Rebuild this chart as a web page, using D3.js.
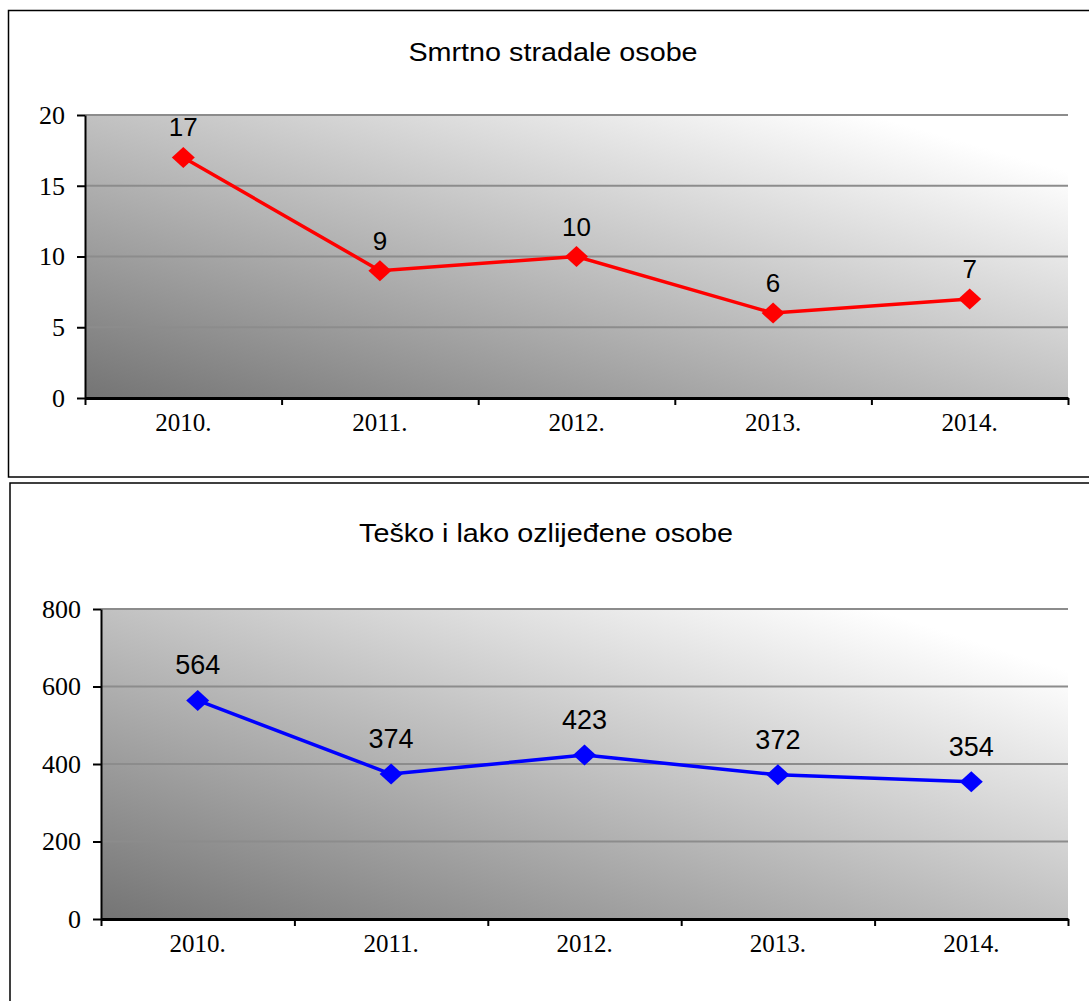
<!DOCTYPE html>
<html>
<head>
<meta charset="utf-8">
<script src="https://cdn.jsdelivr.net/npm/d3@7"></script>
<style>
  body { margin: 0; background: #fff; }
  svg { display: block; }
</style>
</head>
<body>
<svg id="chart"></svg>
<script>
const years = ['2010.', '2011.', '2012.', '2013.', '2014.'];
const deaths = [17, 9, 10, 6, 7];
const injured = [564, 374, 423, 372, 354];
const deathTicks = [0, 5, 10, 15, 20];
const injuredTicks = [0, 200, 400, 600, 800];

const width = 1089;
const height = 1001;

const svg = d3.select('#chart').attr('width', width).attr('height', height);

// background gradient like the old excel plot area
const defs = svg.append('defs');
const grad = defs
  .append('linearGradient')
  .attr('id', 'plotBg')
  .attr('x1', 0)
  .attr('y1', 1)
  .attr('x2', 1)
  .attr('y2', 0);
grad.append('stop').attr('offset', '0%').attr('stop-color', '#747474');
grad.append('stop').attr('offset', '90%').attr('stop-color', '#ffffff');

function drawPanel(p) {
  // outer frame
  svg
    .append('rect')
    .attr('x', p.frame[0])
    .attr('y', p.frame[1])
    .attr('width', p.frame[2])
    .attr('height', p.frame[3])
    .attr('fill', 'none')
    .attr('stroke', '#000')
    .attr('stroke-width', 1.5);

  // title is a bit wider than plain Arial in the original, stretch it
  svg
    .append('text')
    .attr('transform', `translate(${p.titleX}, ${p.titleY}) scale(1.15, 1)`)
    .attr('text-anchor', 'middle')
    .attr('font-family', 'Liberation Sans, Arial, sans-serif')
    .attr('font-size', 25)
    .text(p.title);

  const xBand = d3.scaleBand().domain(years).range([p.left, p.right]);
  const xEdge = d3.scaleLinear().domain([0, years.length]).range([p.left, p.right]);
  const yScale = d3
    .scaleLinear()
    .domain([0, d3.max(p.ticks)])
    .range([p.bottom, p.top]);

  svg
    .append('rect')
    .attr('x', p.left)
    .attr('y', p.top)
    .attr('width', p.right - p.left)
    .attr('height', p.bottom - p.top)
    .attr('fill', 'url(#plotBg)');

  /* grid */
  svg
    .append('g')
    .selectAll('line')
    .data(p.ticks.filter(t => t > 0))
    .enter()
    .append('line')
    .attr('x1', p.left)
    .attr('x2', p.right)
    .attr('y1', d => yScale(d))
    .attr('y2', d => yScale(d))
    .attr('stroke', '#8c8c8c')
    .attr('stroke-width', 2);

  /* Left Axis */
  const leftAxis = svg
    .append('g')
    .attr('transform', `translate(${p.left}, 0)`)
    .call(
      d3
        .axisLeft(yScale)
        .tickValues(p.ticks)
        .tickSize(8)
        .tickPadding(12)
        .tickSizeOuter(0)
    );
  leftAxis.attr('font-family', 'Liberation Serif, Times New Roman, serif').attr('font-size', 26);
  leftAxis.select('.domain').attr('stroke-width', 2);
  leftAxis.selectAll('.tick line').attr('stroke-width', 2);
  leftAxis.selectAll('text').attr('fill', '#000');

  /* Bottom Axis: ticks on category edges */
  const edgeAxis = svg
    .append('g')
    .attr('transform', `translate(0, ${p.bottom})`)
    .call(
      d3
        .axisBottom(xEdge)
        .tickValues(d3.range(years.length + 1))
        .tickFormat('')
        .tickSize(7)
        .tickSizeOuter(0)
    );
  edgeAxis.select('.domain').attr('stroke-width', 3);
  edgeAxis.selectAll('.tick line').attr('stroke-width', 2);

  const labelAxis = svg
    .append('g')
    .attr('transform', `translate(0, ${p.bottom})`)
    .call(d3.axisBottom(xBand).tickSize(0).tickPadding(15));
  labelAxis.attr('font-family', 'Liberation Serif, Times New Roman, serif').attr('font-size', 25);
  labelAxis.select('.domain').remove();
  labelAxis.selectAll('text').attr('fill', '#000');

  const cx = d => xBand(d) + xBand.bandwidth() / 2;

  const line = d3
    .line()
    .x((d, i) => cx(years[i]))
    .y(d => yScale(d));

  svg
    .append('path')
    .datum(p.values)
    .attr('d', line)
    .attr('fill', 'none')
    .attr('stroke', p.color)
    .attr('stroke-width', 3.5);

  const diamond = 'M0,-10.5 L11.5,0 L0,10.5 L-11.5,0 Z';
  svg
    .append('g')
    .selectAll('path')
    .data(p.values)
    .enter()
    .append('path')
    .attr('d', diamond)
    .attr('transform', (d, i) => `translate(${cx(years[i])}, ${yScale(d)})`)
    .attr('fill', p.color);

  svg
    .append('g')
    .selectAll('text')
    .data(p.values)
    .enter()
    .append('text')
    .attr('x', (d, i) => cx(years[i]))
    .attr('y', d => yScale(d) - p.labelOffset)
    .attr('text-anchor', 'middle')
    .attr('font-family', 'Liberation Sans, Arial, sans-serif')
    .attr('font-size', p.labelSize)
    .text(d => d);
}

drawPanel({
  frame: [8.5, 10.5, 1100, 466.5],
  title: 'Smrtno stradale osobe',
  titleX: 553,
  titleY: 61,
  left: 85,
  right: 1068,
  top: 115,
  bottom: 398,
  ticks: deathTicks,
  values: deaths,
  color: '#ff0000',
  labelOffset: 21,
  labelSize: 26
});

drawPanel({
  frame: [10, 483, 1100, 600],
  title: 'Teško i lako ozlijeđene osobe',
  titleX: 546,
  titleY: 542,
  left: 101,
  right: 1068,
  top: 609,
  bottom: 919,
  ticks: injuredTicks,
  values: injured,
  color: '#0000ff',
  labelOffset: 26,
  labelSize: 27
});
</script>
</body>
</html>
